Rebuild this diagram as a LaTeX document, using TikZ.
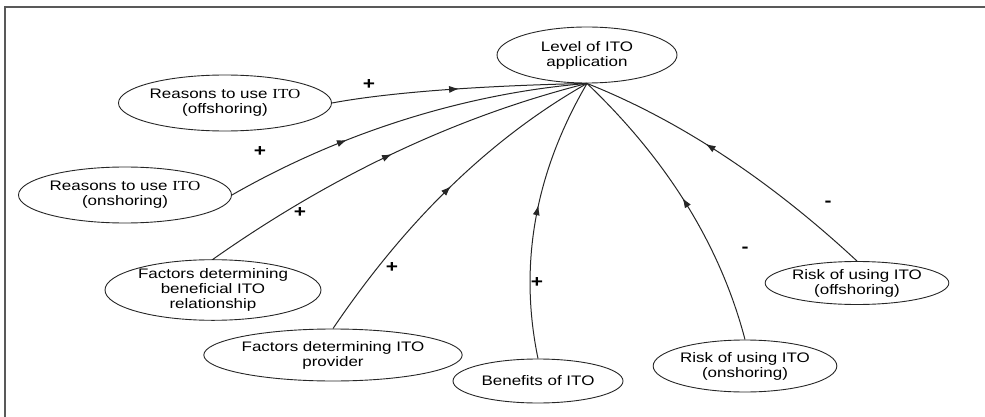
\documentclass[tikz,border=0pt]{standalone}
\usepackage{fontspec}
\setmainfont{Liberation Sans}[FakeStretch=1.23]
\newfontfamily\serifito{Liberation Serif}[FakeStretch=1.23]
\usetikzlibrary{arrows.meta,decorations.markings,shapes.geometric}
\newcommand{\itoserif}{{\serifito ITO}}
\tikzset{
  concept/.style={ellipse, draw=black!85, line width=0.9pt, inner sep=0pt, align=center,
    font=\fontsize{13.8}{15}\selectfont},
  link/.style={draw=black!85, line width=1pt, postaction={decorate},
    decoration={markings, mark=at position #1 with {\arrow{Latex[length=10pt,width=7pt]}}}},
  sign/.style={font=\fontsize{17}{17}\selectfont\bfseries, inner sep=0pt},
  frameline/.style={draw=black!65, line width=1.6pt},
}
\begin{document}
\begin{tikzpicture}[x=1pt,y=-1pt]
\useasboundingbox (0,0) rectangle (985,417);
% frame
\coordinate (fl) at (5,417);
\coordinate (fc) at (5,7);
\coordinate (fr) at (985,7);
\draw[frameline] (fl) -- (fc) -- (fr);

% nodes
\node[concept, minimum width=180, minimum height=56] (top) at (587,55) {Level of ITO\\application};
\node[concept, minimum width=172, minimum height=56] (ro) at (225,103) {Reasons to use \itoserif\\(offshoring)};
\node[concept, minimum width=172, minimum height=56] (ron) at (125,195) {Reasons to use \itoserif\\(onshoring)};
\node[concept, minimum width=216, minimum height=56] (fb) at (213,290) {Factors determining\\beneficial ITO\\relationship};
\node[concept, minimum width=216, minimum height=52] (fp) at (333,355) {Factors determining ITO\\provider};
\node[concept, minimum width=170, minimum height=44] (ben) at (538,381) {Benefits of ITO};
\node[concept, minimum width=170, minimum height=52] (rn) at (745,366) {Risk of using ITO\\(onshoring)};
\node[concept, minimum width=170, minimum height=43] (rf) at (857,283) {Risk of using ITO\\(offshoring)};

% connectors
\draw[link=0.5] (ro.east) .. controls (389.3,92.3) and (480.7,85.7) .. (top.south);
\draw[link=0.34] (ron.east) .. controls (345,130.3) and (469.7,93) .. (top.south);
\draw[link=0.5] (fb.north) .. controls (330.3,176.7) and (454.3,117) .. (top.south);
\draw[link=0.52] (fp.north) .. controls (406.3,220.3) and (490.3,138.3) .. (top.south);
\draw[link=0.54] (ben.north) .. controls (518.7,265.7) and (534.3,173.7) .. (top.south);
\draw[link=0.51] (rn.north) .. controls (720.3,245.3) and (667,159.7) .. (top.south);
\draw[link=0.59] (rf.north) .. controls (769,179.3) and (678.3,119.7) .. (top.south);

% signs
\node[sign] (s1) at (369,85) {+};
\node[sign] (s2) at (260,152) {+};
\node[sign] (s3) at (300,213) {+};
\node[sign] (s4) at (392,268) {+};
\node[sign] (s5) at (537,283) {+};
\node[sign] (s6) at (745,250) {-};
\node[sign] (s7) at (828,204) {-};
\end{tikzpicture}
\end{document}
